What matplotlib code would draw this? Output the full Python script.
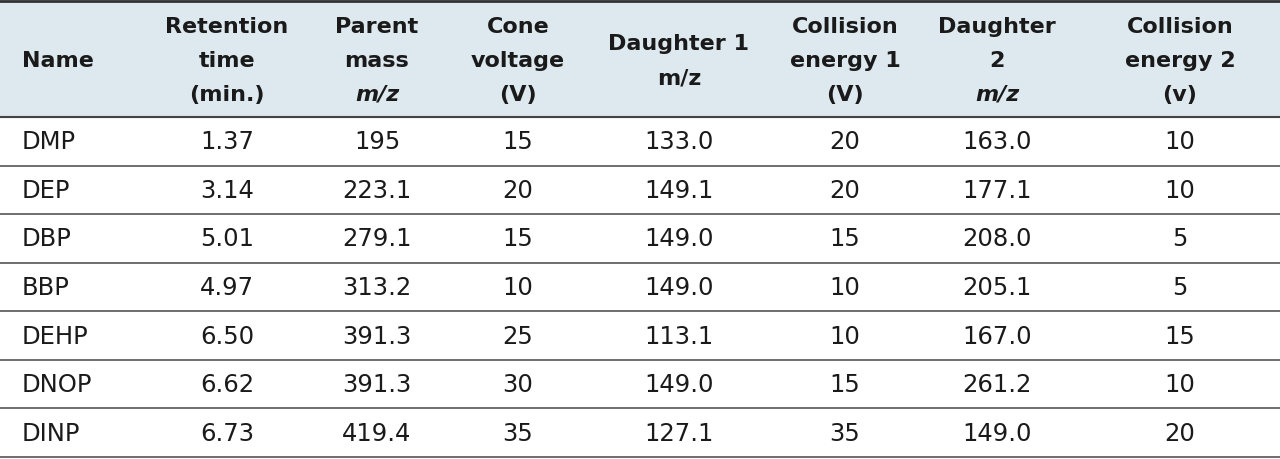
import matplotlib
matplotlib.use("Agg")
import matplotlib.pyplot as plt

names = ["DMP", "DEP", "DBP", "BBP", "DEHP", "DNOP", "DINP"]
retention = ["1.37", "3.14", "5.01", "4.97", "6.50", "6.62", "6.73"]
parent = ["195", "223.1", "279.1", "313.2", "391.3", "391.3", "419.4"]
cone = ["15", "20", "15", "10", "25", "30", "35"]
daughter1 = ["133.0", "149.1", "149.0", "149.0", "113.1", "149.0", "127.1"]
collision1 = ["20", "20", "15", "10", "10", "15", "35"]
daughter2 = ["163.0", "177.1", "208.0", "205.1", "167.0", "261.2", "149.0"]
collision2 = ["10", "10", "5", "5", "15", "10", "20"]

# header lines: (text, italic)
headers = [
    [("Name", False)],
    [("Retention", False), ("time", False), ("(min.)", False)],
    [("Parent", False), ("mass", False), ("m/z", True)],
    [("Cone", False), ("voltage", False), ("(V)", False)],
    [("Daughter 1", False), ("m/z", False)],
    [("Collision", False), ("energy 1", False), ("(V)", False)],
    [("Daughter", False), ("2", False), ("m/z", True)],
    [("Collision", False), ("energy 2", False), ("(v)", False)],
]
columns = [names, retention, parent, cone, daughter1, collision1, daughter2, collision2]

W, H = 1280, 459
fig = plt.figure(figsize=(12.8, 4.59), dpi=100)
ax = fig.add_axes([0, 0, 1, 1])
ax.set_xlim(0, W); ax.set_ylim(H, 0); ax.axis("off")

hdr_bottom = 117
row_h = (H - 2 - hdr_bottom) / 7
ax.add_patch(plt.Rectangle((0, 0), W, hdr_bottom, color="#dde9ef", zorder=0))
ax.plot([0, W], [1, 1], color="#333333", lw=2)
ax.plot([0, W], [hdr_bottom, hdr_bottom], color="#444444", lw=1.5)
for i in range(1, 8):
    y = hdr_bottom + i * row_h
    ax.plot([0, W], [y, y], color="#555555", lw=1.2)

xs = [22, 227, 377, 518, 679, 845, 997, 1180]
fs_h, fs_b = 16, 17.5
for ci, (x, hl, col) in enumerate(zip(xs, headers, columns)):
    ha = "left" if ci == 0 else "center"
    n = len(hl)
    gap = 34
    y0 = 61 - gap * (n - 1) / 2
    for k, (t, it) in enumerate(hl):
        ax.text(x, y0 + k * gap, t, ha=ha, va="center", fontsize=fs_h, fontweight="bold",
                fontstyle="italic" if it else "normal", color="#1a1a1a",
                family="DejaVu Sans")
    for r, v in enumerate(col):
        ax.text(x, hdr_bottom + (r + 0.5) * row_h + 1, v, ha=ha, va="center",
                fontsize=fs_b, color="#1a1a1a", family="DejaVu Sans")

fig.savefig("out.png", dpi=100)
